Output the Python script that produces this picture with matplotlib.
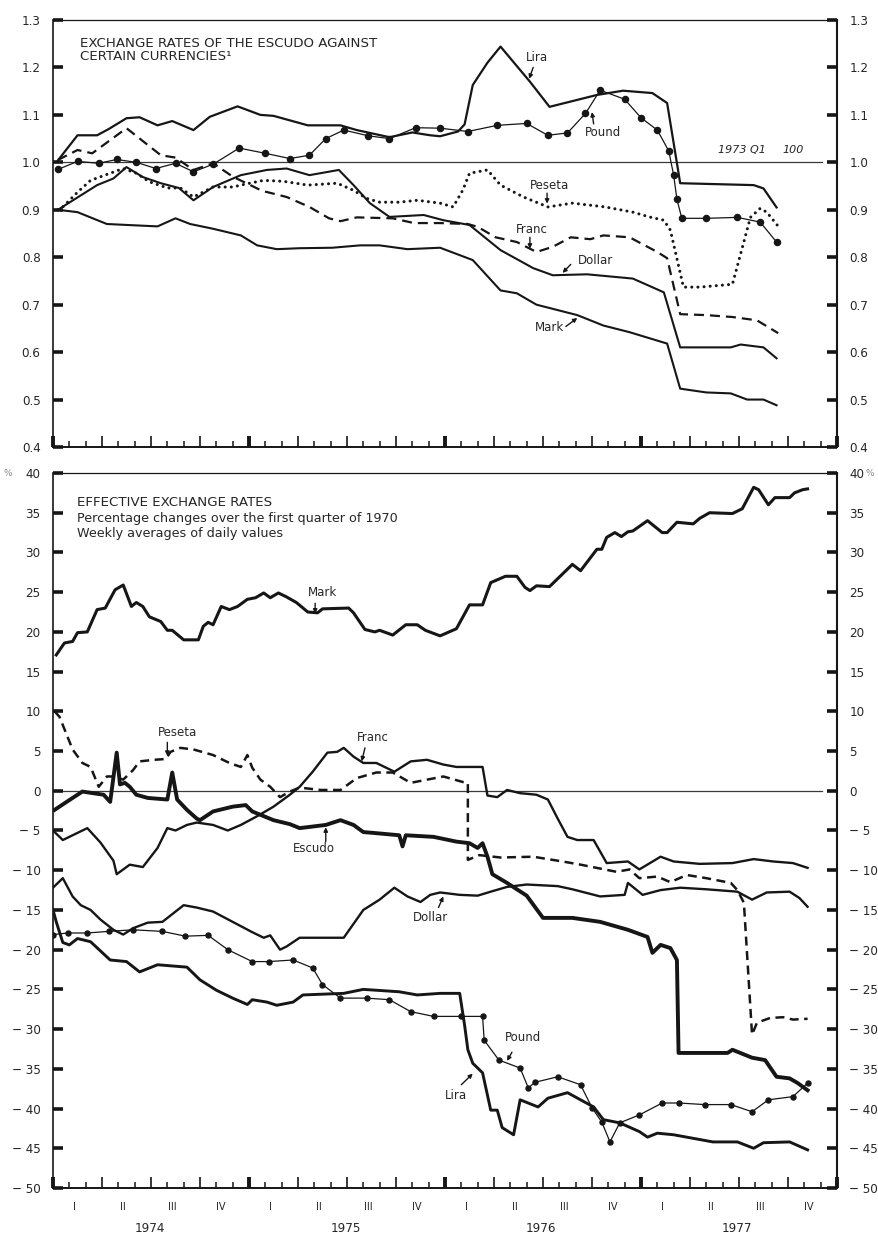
import matplotlib
matplotlib.use('Agg')
import matplotlib.pyplot as plt
import numpy as np

plt.rcParams['font.family'] = ['DejaVu Sans']

INK = '#161616'
TXT = '#262626'

# ---------------- x axis: months since January 1974 ----------------
quarters = ['I', 'II', 'III', 'IV']
years = ['1974', '1975', '1976', '1977']

# ---------------- TOP PANEL: exchange rates of the escudo (1973 Q1 = 1.0) ----------------
top_lira_m = [0.3, 1.5, 2.7, 3.4, 4.5, 5.3, 6.4, 7.3, 8.6, 9.6, 11.3, 12.7, 13.5, 15.6, 17.6, 18.6, 20.6, 22.0,
              23.1, 23.7, 24.8, 25.2, 25.7, 26.6, 27.4, 29.2, 30.4, 33.3, 34.9, 36.7, 37.6, 38.4, 42.9, 43.5, 44.3]
top_lira_v = [1.004, 1.057, 1.057, 1.070, 1.093, 1.095, 1.078, 1.087, 1.068, 1.096, 1.118, 1.100, 1.098, 1.078,
              1.078, 1.068, 1.053, 1.063, 1.057, 1.055, 1.065, 1.080, 1.163, 1.210, 1.244, 1.170, 1.117, 1.142,
              1.151, 1.146, 1.125, 0.956, 0.952, 0.945, 0.905]

top_pound_m = [0.3, 1.5, 2.8, 3.9, 5.1, 6.3, 7.5, 8.6, 9.8, 11.4, 13.0, 14.5, 15.7, 16.7, 17.8, 19.3, 20.6, 22.2,
               23.7, 25.4, 27.2, 29.0, 30.3, 31.5, 32.6, 33.5, 35.0, 36.0, 37.0, 37.7, 38.0, 38.2, 38.5, 40.0,
               41.9, 43.3, 44.3]
top_pound_v = [0.985, 1.002, 0.998, 1.006, 1.000, 0.987, 0.998, 0.980, 0.996, 1.030, 1.019, 1.008, 1.015, 1.050,
               1.068, 1.056, 1.050, 1.073, 1.072, 1.065, 1.078, 1.082, 1.057, 1.062, 1.103, 1.152, 1.133, 1.094,
               1.068, 1.024, 0.973, 0.922, 0.882, 0.882, 0.884, 0.874, 0.832]

top_peseta_m = [0.3, 0.6, 1.5, 2.3, 3.5, 4.3, 5.1, 5.9, 7.0, 7.8, 8.6, 9.8, 11.0, 11.9, 12.9, 14.1, 15.6, 17.4,
                18.4, 19.2, 20.0, 21.2, 22.3, 23.7, 24.5, 25.1, 25.5, 26.6, 27.4, 28.8, 30.3, 31.8, 33.8, 35.5,
                36.5, 37.4, 37.8, 38.6, 39.6, 41.6, 42.7, 43.3, 43.7, 44.5]
top_peseta_v = [0.900, 0.906, 0.937, 0.962, 0.977, 0.987, 0.977, 0.959, 0.946, 0.946, 0.927, 0.948, 0.948, 0.955,
                0.962, 0.960, 0.952, 0.956, 0.941, 0.924, 0.916, 0.916, 0.920, 0.914, 0.906, 0.942, 0.977, 0.984,
                0.952, 0.927, 0.906, 0.914, 0.906, 0.895, 0.885, 0.878, 0.857, 0.737, 0.737, 0.743, 0.884, 0.903,
                0.895, 0.861]

top_franc_m = [0.3, 1.5, 2.4, 4.5, 6.6, 7.5, 8.6, 9.8, 11.0, 12.8, 14.3, 15.7, 16.9, 17.6, 18.6, 20.8, 22.1, 23.7,
               25.4, 26.0, 27.1, 28.4, 29.6, 30.6, 31.7, 32.9, 33.7, 35.3, 37.0, 37.6, 38.4, 40.0, 41.6, 43.1, 44.4]
top_franc_v = [1.005, 1.026, 1.019, 1.072, 1.015, 1.010, 0.984, 0.998, 0.970, 0.940, 0.927, 0.906, 0.882, 0.876,
               0.884, 0.882, 0.872, 0.872, 0.870, 0.864, 0.842, 0.832, 0.811, 0.822, 0.842, 0.838, 0.846, 0.842,
               0.811, 0.798, 0.680, 0.678, 0.674, 0.667, 0.640]

top_dollar_m = [0.3, 2.7, 3.7, 4.5, 5.5, 6.6, 7.7, 8.6, 9.8, 11.5, 13.1, 14.3, 15.7, 17.5, 18.4, 19.4, 20.6, 22.7,
                23.9, 25.5, 27.4, 29.4, 30.6, 32.7, 35.5, 37.4, 38.4, 41.5, 42.1, 43.5, 44.3]
top_dollar_v = [0.900, 0.952, 0.966, 0.990, 0.969, 0.956, 0.946, 0.920, 0.948, 0.973, 0.984, 0.987, 0.973, 0.984,
                0.952, 0.914, 0.885, 0.889, 0.878, 0.868, 0.815, 0.777, 0.762, 0.764, 0.755, 0.726, 0.610, 0.610,
                0.616, 0.610, 0.587]

top_mark_m = [0.3, 1.5, 3.3, 6.4, 7.5, 8.4, 9.8, 11.5, 12.5, 13.7, 15.1, 17.1, 18.8, 20.0, 21.7, 23.7, 25.7, 27.4,
              28.4, 29.6, 32.1, 33.7, 35.3, 37.6, 38.4, 40.0, 41.5, 42.5, 43.5, 44.3]
top_mark_v = [0.900, 0.895, 0.870, 0.865, 0.882, 0.870, 0.860, 0.846, 0.825, 0.817, 0.819, 0.820, 0.825, 0.825,
              0.817, 0.820, 0.794, 0.730, 0.724, 0.700, 0.678, 0.656, 0.642, 0.618, 0.523, 0.515, 0.513, 0.500,
              0.500, 0.488]

top_ticks = [0.4, 0.5, 0.6, 0.7, 0.8, 0.9, 1.0, 1.1, 1.2, 1.3]
top_ticklabels = ['0.4', '0.5', '0.6', '0.7', '0.8', '0.9', '1.0', '1.1', '1.2', '1.3']

# ---------------- BOTTOM PANEL: effective exchange rates (% change over 1970 Q1) ----------------
bot_mark_m = [0.2, 0.7, 1.2, 1.5, 2.1, 2.7, 3.2, 3.8, 4.3, 4.8, 5.1, 5.5, 5.9, 6.6, 7.0, 7.3, 8.0, 8.9, 9.2, 9.5,
              9.8, 10.3, 10.8, 11.3, 11.9, 12.4, 12.9, 13.3, 13.8, 14.3, 14.9, 15.6, 16.2, 16.5, 18.1, 18.4, 19.1,
              19.7, 20.0, 20.8, 21.6, 22.3, 22.8, 23.7, 24.7, 25.5, 26.3, 26.8, 27.7, 28.4, 28.9, 29.2, 29.6, 30.4,
              31.8, 32.3, 33.3, 33.6, 33.9, 34.4, 34.8, 35.2, 35.5, 36.4, 37.3, 37.6, 38.2, 39.2, 39.6, 40.2, 41.6,
              42.2, 42.9, 43.2, 43.8, 44.2, 45.1, 45.4, 45.9, 46.2]
bot_mark_v = [17.1, 18.6, 18.8, 19.9, 20.0, 22.8, 23.0, 25.3, 25.9, 23.2, 23.7, 23.2, 21.9, 21.3, 20.2, 20.2, 19.0,
              19.0, 20.7, 21.2, 20.9, 23.2, 22.8, 23.2, 24.1, 24.3, 24.9, 24.3, 24.9, 24.4, 23.7, 22.5, 22.4, 22.9,
              23.0, 22.4, 20.3, 20.0, 20.2, 19.6, 20.9, 20.9, 20.2, 19.5, 20.4, 23.4, 23.4, 26.2, 27.0, 27.0, 25.6,
              25.2, 25.8, 25.7, 28.5, 27.7, 30.4, 30.4, 31.9, 32.5, 32.0, 32.6, 32.7, 34.0, 32.5, 32.5, 33.8, 33.6,
              34.3, 35.0, 34.9, 35.5, 38.2, 37.9, 36.0, 36.9, 36.9, 37.5, 37.9, 38.0]

bot_peseta_m = [0.1, 0.4, 1.2, 1.8, 2.3, 2.8, 3.3, 3.7, 4.3, 4.9, 5.3, 6.2, 6.9, 7.2, 7.8, 8.6, 9.8, 10.8, 11.5,
                11.9, 12.2, 12.7, 13.3, 13.9, 14.5, 15.1, 16.4, 17.6, 18.6, 19.8, 20.8, 21.9, 22.9, 23.9, 25.1,
                25.4, 25.4, 26.1, 27.4, 29.4, 31.2, 32.3, 34.5, 35.3, 35.9, 37.0, 37.8, 38.8, 40.0, 41.5, 41.9,
                42.3, 42.8, 43.1, 43.9, 44.7, 45.3, 46.2]
bot_peseta_v = [10.0, 9.3, 5.2, 3.5, 3.0, 0.5, 1.8, 1.8, 1.4, 2.6, 3.7, 3.9, 4.0, 4.9, 5.4, 5.2, 4.5, 3.5, 3.0, 4.5,
                2.9, 1.4, 0.5, -0.8, -0.1, 0.4, 0.1, 0.1, 1.6, 2.3, 2.3, 1.0, 1.4, 1.8, 1.1, 1.0, -8.7, -8.1,
                -8.4, -8.3, -8.9, -9.3, -10.2, -9.9, -11.0, -10.8, -11.5, -10.6, -11.0, -11.6, -12.5, -14.1,
                -30.7, -29.2, -28.6, -28.5, -28.8, -28.7]

bot_franc_m = [0.0, 0.6, 1.2, 2.1, 2.9, 3.7, 3.9, 4.7, 5.5, 6.4, 7.0, 7.5, 8.2, 8.8, 9.8, 10.7, 11.5, 12.5, 13.5,
               14.5, 15.1, 15.9, 16.8, 17.4, 17.8, 18.4, 19.0, 19.8, 20.9, 21.9, 22.9, 23.9, 24.7, 26.3, 26.6,
               27.2, 27.8, 28.6, 29.6, 30.3, 30.9, 31.5, 32.1, 33.1, 33.9, 35.2, 35.9, 37.2, 38.0, 39.6, 41.6,
               42.9, 44.1, 45.3, 46.2]
bot_franc_v = [-5.0, -6.2, -5.6, -4.7, -6.5, -8.8, -10.5, -9.3, -9.6, -7.2, -4.7, -5.0, -4.3, -4.0, -4.3, -5.0,
               -4.3, -3.2, -2.0, -0.5, 0.5, 2.4, 4.8, 4.9, 5.4, 4.3, 3.5, 3.5, 2.4, 3.7, 3.9, 3.3, 3.0, 3.0, -0.6,
               -0.8, 0.1, -0.3, -0.5, -1.1, -3.5, -5.8, -6.2, -6.2, -9.1, -8.9, -9.9, -8.3, -8.9, -9.2, -9.1,
               -8.6, -8.9, -9.1, -9.7]

bot_escudo_m = [0.1, 1.2, 1.8, 3.1, 3.5, 3.9, 4.1, 4.4, 4.7, 5.1, 5.8, 7.0, 7.3, 7.6, 8.2, 8.8, 9.0, 9.8, 11.0,
                11.8, 12.2, 13.5, 14.5, 15.1, 15.9, 16.7, 17.6, 18.4, 19.0, 19.6, 21.2, 21.4, 21.6, 23.3, 24.7,
                25.5, 26.0, 26.3, 26.6, 26.9, 27.8, 29.0, 30.0, 31.8, 33.5, 35.2, 36.4, 36.7, 37.2, 37.8, 38.2,
                38.3, 41.3, 41.6, 42.8, 43.6, 44.3, 45.1, 45.6, 46.2]
bot_escudo_v = [-2.4, -0.9, -0.1, -0.5, -1.4, 4.8, 0.8, 1.0, 0.5, -0.5, -0.9, -1.1, 2.3, -1.1, -2.4, -3.5, -3.7,
                -2.6, -2.0, -1.8, -2.6, -3.7, -4.2, -4.7, -4.5, -4.3, -3.7, -4.3, -5.2, -5.3, -5.6, -7.0, -5.6,
                -5.8, -6.4, -6.6, -7.2, -6.6, -8.3, -10.5, -11.6, -13.2, -16.0, -16.0, -16.5, -17.5, -18.4, -20.4,
                -19.4, -19.8, -21.3, -33.0, -33.0, -32.6, -33.6, -33.9, -36.0, -36.2, -36.8, -37.7]

bot_dollar_m = [0.0, 0.6, 1.2, 1.7, 2.3, 2.9, 3.7, 4.3, 4.9, 5.8, 6.7, 8.0, 8.8, 9.8, 11.0, 12.2, 12.9, 13.3, 13.9,
                14.3, 15.1, 17.8, 19.0, 20.0, 20.9, 21.7, 22.5, 23.1, 23.7, 24.9, 26.0, 26.8, 27.8, 29.0, 30.9,
                31.8, 33.5, 35.0, 35.2, 36.1, 37.2, 38.4, 40.0, 41.9, 42.8, 43.7, 45.1, 45.7, 46.2]
bot_dollar_v = [-12.2, -11.0, -13.3, -14.4, -15.0, -16.2, -17.5, -18.1, -17.3, -16.6, -16.5, -14.4, -14.7, -15.2,
                -16.5, -17.8, -18.5, -18.2, -20.0, -19.6, -18.5, -18.5, -15.0, -13.7, -12.2, -13.3, -14.0, -13.1,
                -12.8, -13.1, -13.2, -12.7, -12.1, -11.8, -12.0, -12.4, -13.3, -13.1, -11.6, -13.1, -12.5, -12.2,
                -12.4, -12.7, -13.7, -12.8, -12.7, -13.5, -14.6]

bot_lira_m = [0.0, 0.2, 0.6, 1.0, 1.5, 2.3, 3.5, 4.5, 5.3, 6.4, 8.2, 9.0, 10.0, 11.0, 11.9, 12.2, 13.1, 13.7, 14.7,
              15.3, 17.8, 19.0, 21.2, 22.3, 23.7, 24.9, 25.2, 25.4, 25.7, 26.3, 26.8, 27.2, 27.5, 28.2, 28.6,
              29.7, 30.3, 31.5, 33.1, 33.7, 34.7, 35.9, 36.4, 37.0, 38.0, 40.4, 41.9, 42.9, 43.5, 45.1, 46.2]
bot_lira_v = [-15.0, -16.5, -19.1, -19.4, -18.6, -19.0, -21.3, -21.5, -22.8, -21.9, -22.2, -23.8, -25.1, -26.1,
              -26.9, -26.3, -26.6, -27.0, -26.6, -25.7, -25.5, -25.0, -25.3, -25.7, -25.5, -25.5, -29.5, -32.6,
              -34.3, -35.5, -40.2, -40.2, -42.4, -43.3, -38.9, -39.8, -38.7, -38.0, -39.8, -41.4, -41.8, -42.9,
              -43.6, -43.1, -43.3, -44.2, -44.2, -45.0, -44.3, -44.2, -45.2]

bot_pound_m = [0.0, 0.9, 2.1, 3.4, 4.9, 6.7, 8.1, 9.5, 10.7, 12.2, 13.2, 14.7, 15.9, 16.5, 17.6, 19.2, 20.6, 21.9,
               23.3, 25.0, 26.3, 26.4, 27.3, 28.6, 29.1, 29.5, 30.9, 32.3, 33.0, 33.6, 34.1, 34.7, 35.9, 37.3,
               38.3, 39.9, 41.5, 42.8, 43.8, 45.3, 46.2]
bot_pound_v = [-18.1, -17.9, -17.9, -17.7, -17.5, -17.7, -18.3, -18.2, -20.0, -21.5, -21.5, -21.3, -22.3, -24.4,
               -26.1, -26.1, -26.3, -27.8, -28.4, -28.4, -28.4, -31.4, -33.9, -34.9, -37.4, -36.7, -36.0, -37.0,
               -39.9, -41.7, -44.2, -41.8, -40.8, -39.3, -39.3, -39.5, -39.5, -40.4, -38.9, -38.5, -36.8]

bot_ticks = list(range(-50, 41, 5))
bot_ticklabels = [('\u2212 %d' % -t) if t < 0 else str(t) for t in bot_ticks]

# ---------------- figure ----------------
fig = plt.figure(figsize=(8.79, 12.38), dpi=100)
fig.patch.set_facecolor('white')
ax1 = fig.add_axes([0.0603, 0.63893, 0.8919, 0.34491])
ax2 = fig.add_axes([0.0603, 0.04039, 0.8919, 0.57754])


def style(ax, ticks, labels):
    ax.set_xlim(0, 48)
    ax.set_ylim(ticks[0], ticks[-1])
    ax.spines['left'].set_linewidth(1.2)
    ax.spines['right'].set_linewidth(1.5)
    ax.spines['top'].set_linewidth(0.9)
    ax.spines['bottom'].set_linewidth(1.4)
    for s in ax.spines.values():
        s.set_color(INK)
    ax.set_yticks(ticks)
    ax.set_yticklabels(labels)
    ax.tick_params(axis='y', which='major', direction='in', length=7, width=2.6, left=True, right=True,
                   labelleft=True, labelright=True, pad=9, labelsize=9.5, color=INK, labelcolor=TXT)
    ax.set_xticks(np.arange(0, 49, 3))
    ax.set_xticks(np.arange(0, 49, 1), minor=True)
    ax.tick_params(axis='x', which='major', direction='in', length=8, width=1.2, top=False,
                   labelbottom=False, color=INK)
    ax.tick_params(axis='x', which='minor', direction='in', length=4, width=1.1, top=False, color=INK)
    for t, loc in zip(ax.xaxis.get_major_ticks(), ax.get_xticks()):
        if loc % 12 == 0:
            t.tick1line.set_markeredgewidth(2.8)
    for lab in ax.get_yticklabels():
        lab.set_fontstretch('condensed')


style(ax1, top_ticks, top_ticklabels)
style(ax2, bot_ticks, bot_ticklabels)

# reference lines
ax1.axhline(1.0, xmin=0, xmax=0.981, color='#3a3a3a', lw=0.9, zorder=1)
ax2.axhline(0.0, xmin=0, xmax=0.981, color='#3a3a3a', lw=0.9, zorder=1)

# ---- top panel lines
ax1.plot(top_lira_m, top_lira_v, color=INK, lw=1.6, solid_joinstyle='round')
ax1.plot(top_pound_m, top_pound_v, color=INK, lw=0.9, marker='o', ms=4.4, mfc=INK, mec=INK)
ax1.plot(top_peseta_m, top_peseta_v, color=INK, lw=2.2, linestyle=(0, (0.01, 2.0)), dash_capstyle='round')
ax1.plot(top_franc_m, top_franc_v, color=INK, lw=1.6, linestyle=(0, (4.5, 2.7)))
ax1.plot(top_dollar_m, top_dollar_v, color=INK, lw=1.5, solid_joinstyle='round')
ax1.plot(top_mark_m, top_mark_v, color=INK, lw=1.5, solid_joinstyle='round')

# ---- bottom panel lines
ax2.plot(bot_mark_m, bot_mark_v, color=INK, lw=2.2, solid_joinstyle='round')
ax2.plot(bot_peseta_m, bot_peseta_v, color=INK, lw=1.8, linestyle=(0, (3.6, 2.2)))
ax2.plot(bot_franc_m, bot_franc_v, color=INK, lw=1.7, solid_joinstyle='round')
ax2.plot(bot_escudo_m, bot_escudo_v, color=INK, lw=2.8, solid_joinstyle='round')
ax2.plot(bot_dollar_m, bot_dollar_v, color=INK, lw=1.7, solid_joinstyle='round')
ax2.plot(bot_lira_m, bot_lira_v, color=INK, lw=2.1, solid_joinstyle='round')
ax2.plot(bot_pound_m, bot_pound_v, color=INK, lw=0.9, marker='o', ms=3.6, mfc=INK, mec=INK)

# ---- titles
ax1.text(0.0344, 0.93, 'EXCHANGE RATES OF THE ESCUDO AGAINST\nCERTAIN CURRENCIES\u00b9', transform=ax1.transAxes,
         ha='left', va='center', fontsize=9.6, color=TXT, linespacing=1.0)
ax2.text(0.0306, 0.9594, 'EFFECTIVE EXCHANGE RATES', transform=ax2.transAxes, ha='left', va='center',
         fontsize=9.6, color=TXT)
ax2.text(0.0306, 0.9357, 'Percentage changes over the first quarter of 1970', transform=ax2.transAxes,
         ha='left', va='center', fontsize=9.2, color=TXT)
ax2.text(0.0306, 0.9147, 'Weekly averages of daily values', transform=ax2.transAxes, ha='left', va='center',
         fontsize=9.2, color=TXT)

ax1.text(42.2, 1.026, '1973 Q1', fontsize=8, style='italic', color=TXT, ha='center', va='center')
ax1.text(45.3, 1.026, '100', fontsize=8, style='italic', color=TXT, ha='center', va='center')

arrow = dict(arrowstyle='-|>', lw=1.0, color=INK, mutation_scale=6, shrinkA=0, shrinkB=0)


def label(ax, text, pos, tail, head):
    ax.text(pos[0], pos[1], text, fontsize=8.5, color=TXT, ha='center', va='center')
    ax.annotate('', xy=head, xytext=tail, arrowprops=arrow)


# top panel labels
label(ax1, 'Lira', (29.6, 1.222), (29.4, 1.200), (29.15, 1.176))
label(ax1, 'Pound', (33.7, 1.062), (33.1, 1.081), (33.0, 1.106))
label(ax1, 'Peseta', (30.4, 0.952), (30.25, 0.935), (30.25, 0.913))
label(ax1, 'Franc', (29.3, 0.859), (29.2, 0.842), (29.2, 0.818))
label(ax1, 'Dollar', (33.2, 0.794), (31.7, 0.785), (31.2, 0.767))
label(ax1, 'Mark', (30.4, 0.652), (31.4, 0.654), (32.1, 0.672))

# bottom panel labels
label(ax2, 'Mark', (16.5, 24.9), (16.05, 23.6), (16.05, 22.3))
label(ax2, 'Peseta', (7.6, 7.3), (7.0, 6.1), (7.0, 4.4))
label(ax2, 'Franc', (19.6, 6.7), (19.1, 5.4), (18.9, 3.7))
label(ax2, 'Escudo', (16.0, -7.3), (16.7, -6.4), (16.7, -4.6))
label(ax2, 'Dollar', (23.1, -15.9), (23.6, -14.7), (23.9, -13.3))
label(ax2, 'Pound', (28.8, -31.1), (28.1, -32.9), (27.8, -34.0))
label(ax2, 'Lira', (24.7, -38.4), (25.0, -37.0), (25.7, -35.6))

# quarter and year labels
xt = ax2.get_xaxis_transform()
for yi, yr in enumerate(years):
    for qi, q in enumerate(quarters):
        ax2.text(12 * yi + 3 * qi + 1.3, -0.027, q, transform=xt, ha='center', va='center', fontsize=7.8,
                 color=TXT, fontstretch='condensed')
    ax2.text(12 * yi + 5.9, -0.056, yr, transform=xt, ha='center', va='center', fontsize=9.5, color=TXT,
             fontstretch='condensed')

# percent signs
fig.text(8 / 879, 1 - 473 / 1238, '%', fontsize=6.5, color='#888888', ha='center', va='center')
fig.text(870 / 879, 1 - 473 / 1238, '%', fontsize=6.5, color='#888888', ha='center', va='center')

fig.savefig('out.png', dpi=100, facecolor='white')
